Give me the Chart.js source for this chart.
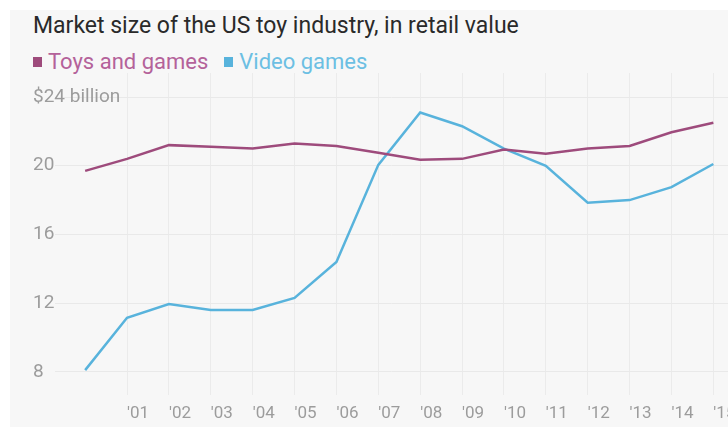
<!DOCTYPE html>
<html>
<head>
<meta charset="utf-8">
<script src="https://cdn.jsdelivr.net/npm/chart.js@4.4.1/dist/chart.umd.min.js"></script>
<style>
  body { margin: 0; background: #fff; font-family: Roboto, "Open Sans", sans-serif; }
  #panel { position: absolute; left: 10px; top: 10px; width: 718px; height: 417px; background: #f7f7f7; overflow: hidden; }
  #title { position: absolute; left: 23px; top: 2px; font-size: 23px; color: #2a2a2a; white-space: nowrap; }
  #legend { position: absolute; left: 23px; top: 39px; font-size: 22px; white-space: nowrap; }
  #legend span { display: inline-block; margin-right: 16px; }
  #legend i { display: inline-block; width: 9px; height: 10px; margin-right: 6px; vertical-align: 2px; }
  #myChart { position: absolute; left: 0; top: 0; }
</style>
</head>
<body>
<div id="panel">
  <div id="title">Market size of the US toy industry, in retail value</div>
  <div id="legend"></div>
  <canvas id="myChart" width="718" height="417"></canvas>
</div>
<script>
var years = [2000, 2001, 2002, 2003, 2004, 2005, 2006, 2007, 2008, 2009, 2010, 2011, 2012, 2013, 2014, 2015];
var toysAndGames = [19.7, 20.4, 21.2, 21.1, 21.0, 21.3, 21.15, 20.75, 20.35, 20.4, 20.95, 20.7, 21.0, 21.15, 21.95, 22.5];
var videoGames = [8.1, 11.15, 11.95, 11.6, 11.6, 12.3, 14.4, 20.05, 23.1, 22.3, 21.0, 20.0, 17.85, 18.0, 18.75, 20.1];
var xTicks = [2001, 2002, 2003, 2004, 2005, 2006, 2007, 2008, 2009, 2010, 2011, 2012, 2013, 2014, 2015];
var yTicks = [8, 12, 16, 20, 24];

var series = [
  { label: "Toys and games", values: toysAndGames, color: "#9e4b7c", legendColor: "#b4629a" },
  { label: "Video games", values: videoGames, color: "#58b3dc", legendColor: "#6cbfe3" },
];

// legend above the plot
var legend = document.getElementById("legend");
series.forEach(function (s) {
  var item = document.createElement("span");
  item.style.color = s.legendColor;
  item.innerHTML = '<i style="background:' + s.color + '"></i>' + s.label;
  legend.appendChild(item);
});

function toPoints(values) {
  return values.map(function (v, i) { return { x: years[i], y: v }; });
}

var data = {
  datasets: series.map(function (s) {
    return {
      label: s.label,
      data: toPoints(s.values),
      borderColor: s.color,
      backgroundColor: s.color,
      borderWidth: 2.5,
      pointRadius: 0,
      tension: 0,
    };
  }),
};

var fontFamily = "Roboto, 'Open Sans', sans-serif";

var config = {
  type: "line",
  data: data,
  options: {
    animation: false,
    responsive: false,
    layout: { padding: { left: 23, top: 63, right: 0, bottom: 2 } },
    plugins: { legend: { display: false }, tooltip: { enabled: false } },
    scales: {
      x: {
        type: "linear",
        min: 1999.28,
        max: 2015.35,
        afterBuildTicks: function (scale) {
          scale.ticks = xTicks.map(function (v) { return { value: v }; });
        },
        afterFit: function (scale) {
          scale.height = 30;
          scale.paddingLeft = 0;
          scale.paddingRight = 0;
        },
        border: { display: false },
        grid: { color: "#ebebeb", drawTicks: false },
        ticks: {
          align: "start",
          padding: 9,
          color: "#9c9c9c",
          font: { family: fontFamily, size: 17 },
          maxRotation: 0,
          autoSkip: false,
          callback: function (v) { return "'" + String(v).slice(2); },
        },
      },
      y: {
        min: 6.65,
        max: 25.4,
        afterBuildTicks: function (scale) {
          scale.ticks = yTicks.map(function (v) { return { value: v }; });
        },
        afterFit: function (scale) { scale.width = 22; },
        border: { display: false },
        grid: { color: "#e9e9e9", drawTicks: false },
        ticks: {
          // mirrored so the long top label is not clipped to the axis box
          mirror: true,
          padding: -22,
          color: "#9c9c9c",
          font: { family: fontFamily, size: 19 },
          callback: function (v) { return v === 24 ? "$24 billion" : v; },
        },
      },
    },
  },
};

var myChart = new Chart(document.getElementById("myChart"), config);
</script>
</body>
</html>
